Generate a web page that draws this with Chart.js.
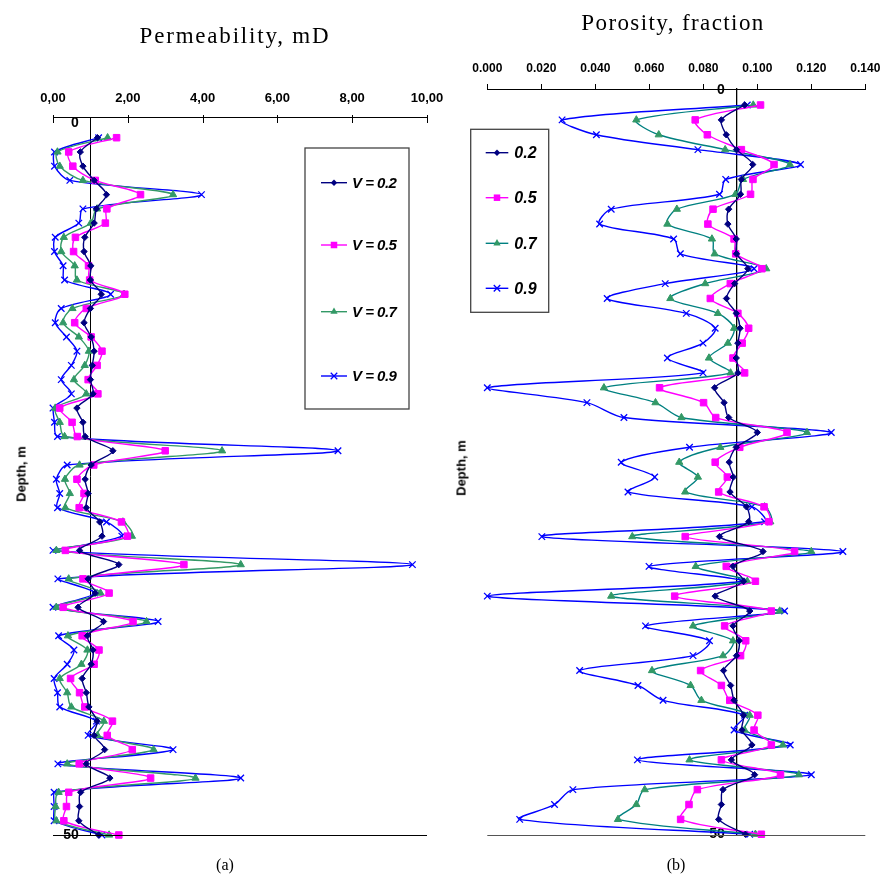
<!DOCTYPE html>
<html><head><meta charset="utf-8">
<script src="https://cdn.jsdelivr.net/npm/chart.js@4.4.1/dist/chart.umd.min.js"></script>
<style>
html,body{margin:0;padding:0;background:#fff;width:891px;height:878px;overflow:hidden;}
#ca{position:absolute;left:0;top:0;}
#cb{position:absolute;left:445px;top:0;}
.t{position:absolute;font-family:'Liberation Serif','Times New Roman',serif;color:#000;white-space:nowrap;transform:translate(-50%,-50%);}
.d{position:absolute;font-family:'Liberation Sans',Arial,sans-serif;font-weight:bold;font-size:13px;color:#000;white-space:nowrap;transform:translate(-50%,-50%) rotate(-90deg);}
</style></head><body>
<canvas id="ca" width="445" height="878"></canvas>
<canvas id="cb" width="446" height="878"></canvas>
<div class="t" style="left:235px;top:36px;font-size:23px;letter-spacing:1.8px">Permeability, mD</div>
<div class="t" style="left:673px;top:23px;font-size:23px;letter-spacing:1.4px">Porosity, fraction</div>
<div class="t" style="left:225px;top:865px;font-size:16px">(a)</div>
<div class="t" style="left:676px;top:865px;font-size:16px">(b)</div>
<div class="d" style="left:21px;top:474px">Depth, m</div>
<div class="d" style="left:461px;top:468px">Depth, m</div>
<script>
// ---------- data ----------
const depth = [1,2,3,4,5,6,7,8,9,10,11,12,13,14,15,16,17,18,19,20,21,22,23,24,25,26,27,28,29,30,31,32,33,34,35,36,37,38,39,40,41,42,43,44,45,46,47,48,49,50];

const seriesLabels = ['0.2','0.5','0.7','0.9'];

const permV02 = [1.19,0.73,0.80,1.10,1.43,1.16,1.10,0.85,0.83,1.01,1.00,1.29,1.00,0.83,1.02,1.10,1.05,1.00,1.07,0.64,0.80,0.86,1.60,1.02,0.86,0.94,0.89,1.25,1.31,0.71,1.76,0.94,1.13,0.67,1.35,0.92,1.07,1.02,0.78,0.89,0.96,1.18,1.10,1.38,0.89,1.52,0.74,0.71,0.69,1.22];
const permV05 = [1.70,0.42,0.53,1.13,2.34,1.44,1.40,0.60,0.55,0.95,0.98,1.92,0.89,0.58,1.02,1.31,1.18,0.94,1.20,0.18,0.51,0.65,3.00,1.09,0.64,0.83,0.70,1.83,1.99,0.33,3.50,0.80,1.50,0.27,2.14,0.78,1.23,1.10,0.47,0.71,0.85,1.59,1.45,2.12,0.70,2.61,0.42,0.36,0.29,1.76];
const permV07 = [1.46,0.12,0.18,0.80,3.21,1.18,1.01,0.29,0.22,0.58,0.64,1.90,0.52,0.27,0.69,0.96,0.85,0.56,0.89,0.06,0.18,0.31,4.52,0.71,0.32,0.45,0.33,1.87,2.11,0.09,5.02,0.42,1.27,0.09,2.50,0.40,0.92,0.76,0.18,0.38,0.49,1.36,1.19,2.69,0.38,3.81,0.15,0.07,0.09,1.50];
const permV09 = [1.22,0.04,0.04,0.45,3.97,0.80,0.69,0.06,0.04,0.27,0.31,1.54,0.22,0.06,0.36,0.64,0.49,0.22,0.49,0.00,0.04,0.12,7.62,0.38,0.09,0.18,0.12,1.43,1.84,0.00,9.61,0.13,1.11,0.00,2.81,0.15,0.56,0.38,0.03,0.12,0.18,1.16,0.94,3.21,0.13,5.02,0.03,0.03,0.03,1.31];

const poroV02 = [0.0953,0.0867,0.0885,0.0923,0.0983,0.0941,0.0938,0.0894,0.0891,0.0922,0.0923,0.0965,0.0916,0.0886,0.0922,0.0936,0.0928,0.0922,0.0928,0.0842,0.0877,0.0894,0.1000,0.0922,0.0896,0.0911,0.0899,0.0960,0.0968,0.0860,0.1021,0.0910,0.0949,0.0844,0.0972,0.0910,0.0933,0.0923,0.0875,0.0901,0.0914,0.0949,0.0943,0.0980,0.0904,0.0990,0.0873,0.0867,0.0857,0.0956];
const poroV05 = [0.1012,0.0770,0.0815,0.0941,0.1062,0.0984,0.0975,0.0836,0.0817,0.0914,0.0920,0.1017,0.0900,0.0826,0.0928,0.0968,0.0944,0.0910,0.0953,0.0638,0.0801,0.0846,0.1110,0.0935,0.0844,0.0889,0.0857,0.1025,0.1043,0.0733,0.1138,0.0885,0.0993,0.0694,0.1052,0.0879,0.0957,0.0938,0.0790,0.0867,0.0898,0.1002,0.0988,0.1052,0.0867,0.1086,0.0778,0.0747,0.0716,0.1015];
const poroV07 = [0.0985,0.0552,0.0635,0.0881,0.1121,0.0947,0.0919,0.0702,0.0667,0.0832,0.0842,0.1033,0.0807,0.0678,0.0854,0.0914,0.0891,0.0821,0.0901,0.0432,0.0623,0.0719,0.1184,0.0863,0.0711,0.0780,0.0733,0.1027,0.1048,0.0537,0.1200,0.0772,0.0963,0.0459,0.1083,0.0762,0.0910,0.0873,0.0610,0.0753,0.0793,0.0972,0.0953,0.1095,0.0749,0.1154,0.0583,0.0552,0.0484,0.0993];
const poroV09 = [0.0963,0.0277,0.0404,0.0780,0.1160,0.0883,0.0860,0.0459,0.0416,0.0690,0.0715,0.0988,0.0659,0.0444,0.0737,0.0844,0.0799,0.0667,0.0799,0.0000,0.0369,0.0506,0.1274,0.0749,0.0496,0.0620,0.0521,0.0980,0.1027,0.0202,0.1317,0.0599,0.0941,0.0000,0.1101,0.0586,0.0823,0.0762,0.0342,0.0558,0.0651,0.0953,0.0914,0.1122,0.0556,0.1200,0.0317,0.0249,0.0120,0.0972];

const permTicks = [0,2,4,6,8,10];
const poroTicks = [0,0.02,0.04,0.06,0.08,0.10,0.12,0.14];
const depthTicks = [0,50];
const permAxisCross = 1.0;     // vertical axis crosses permeability at 1.0
const poroAxisCross = 0.0923;  // vertical axis crosses porosity at 0.0923

// ---------- styles ----------
const NAVY='#000080', MAG='#FF00FF', GREEN='#339966', TEAL='#008080', BLUE='#0000FF';
const styles = [
  {color:NAVY, line:NAVY, style:'rectRot', r:3.2},
  {color:MAG, line:MAG, style:'rect', r:4.6},
  {color:GREEN, line:GREEN, style:'triangle', r:4.2},
  {color:BLUE, line:BLUE, style:'crossRot', r:4.6}
];

function mkDatasets(arrs, lineOverride){
  return arrs.map((arr,i)=>{
    const s = styles[i];
    const lc = (lineOverride && lineOverride[i]) || s.line;
    return {
      label: seriesLabels[i],
      data: arr.map((v,k)=>({x:v, y:depth[k]})),
      borderColor: lc, borderWidth: 1.4,
      pointStyle: s.style, pointRadius: s.r,
      pointBackgroundColor: s.color, pointBorderColor: s.color,
      pointBorderWidth: s.style==='crossRot'?1.3:1,
      tension: 0.3, fill:false, clip:false, showLine:true
    };
  });
}

function drawMarker(ctx, style, x, y, r, color){
  ctx.save();
  ctx.fillStyle=color; ctx.strokeStyle=color; ctx.lineWidth=1.3;
  ctx.beginPath();
  if(style==='rectRot'){ ctx.moveTo(x,y-r); ctx.lineTo(x+r,y); ctx.lineTo(x,y+r); ctx.lineTo(x-r,y); ctx.closePath(); ctx.fill(); }
  else if(style==='rect'){ const s=r*Math.SQRT1_2; ctx.rect(x-s,y-s,2*s,2*s); ctx.fill(); }
  else if(style==='triangle'){ ctx.moveTo(x,y-r); ctx.lineTo(x+r*0.866,y+r*0.5); ctx.lineTo(x-r*0.866,y+r*0.5); ctx.closePath(); ctx.fill(); }
  else { const s=r*Math.SQRT1_2; ctx.moveTo(x-s,y-s); ctx.lineTo(x+s,y+s); ctx.moveTo(x+s,y-s); ctx.lineTo(x-s,y+s); ctx.stroke(); }
  ctx.restore();
}

const legendPlugin = {
  id:'customLegend',
  afterDraw(chart, args, opts){
    if(!opts || !opts.box) return;
    const ctx=chart.ctx;
    ctx.save();
    ctx.strokeStyle='#444'; ctx.lineWidth=1.3;
    const b=opts.box;
    ctx.strokeRect(b[0],b[1],b[2],b[3]);
    ctx.font=opts.font; ctx.fillStyle='#000'; ctx.textBaseline='middle'; ctx.textAlign='left';
    if(opts.letterSpacing) ctx.letterSpacing=opts.letterSpacing;
    chart.data.datasets.forEach((ds,i)=>{
      const y=opts.rows[i];
      ctx.strokeStyle=ds.borderColor; ctx.lineWidth=1.4;
      ctx.beginPath(); ctx.moveTo(opts.x1,y); ctx.lineTo(opts.x2,y); ctx.stroke();
      drawMarker(ctx, ds.pointStyle, (opts.x1+opts.x2)/2, y, ds.pointRadius, ds.pointBackgroundColor);
      ctx.fillStyle='#000';
      ctx.fillText(opts.prefix + ds.label, opts.tx, y+1);
    });
    ctx.restore();
  }
};

const framePlugin = {
  id:'frame',
  afterDraw(chart, args, opts){
    const ctx=chart.ctx, ca=chart.chartArea, xs=chart.scales.x;
    ctx.save();
    ctx.strokeStyle=opts.bottomColor||'#000'; ctx.lineWidth=1.2;
    ctx.beginPath(); ctx.moveTo(ca.left, Math.round(ca.bottom)+0.5); ctx.lineTo(ca.right, Math.round(ca.bottom)+0.5); ctx.stroke();
    if(opts.innerTicks){
      ctx.strokeStyle='#000'; ctx.lineWidth=1;
      xs.ticks.forEach(t=>{
        const x=Math.round(xs.getPixelForValue(t.value))+0.5;
        ctx.beginPath(); ctx.moveTo(x, ca.top-2); ctx.lineTo(x, ca.top+6); ctx.stroke();
      });
    }
    ctx.restore();
  }
};

const tickFontA = {family:"'Liberation Sans', Arial, sans-serif", weight:'bold', size:13};
const tickFontB = {family:"'Liberation Sans', Arial, sans-serif", weight:'bold', size:12};
const depthFont = {family:"'Liberation Sans', Arial, sans-serif", weight:'bold', size:14};
const GAP = '\u00a0\u00a0\u00a0';

function setTicks(list){ return function(scale){ scale.ticks = list.map(v=>({value:v})); }; }
function fitTop(h){ return function(s){ s.height=h; s.paddingLeft=0; s.paddingRight=0; }; }

// ---------- chart (a) ----------
new Chart(document.getElementById('ca'), {
  type:'line',
  data:{ datasets: mkDatasets([permV02,permV05,permV07,permV09]) },
  options:{
    responsive:false, animation:false, devicePixelRatio:1,
    layout:{padding:{left:53, right:18, top:0, bottom:43}},
    plugins:{
      legend:{display:false}, tooltip:{enabled:false},
      customLegend:{box:[305,148,104,261], rows:[182.7,245,311.7,376], x1:321, x2:347, tx:352,
        font:"italic bold 15px 'Liberation Sans', Arial, sans-serif", prefix:'V = ', letterSpacing:'-0.5px'},
      frame:{innerTicks:true, bottomColor:'#000'}
    },
    scales:{
      x:{type:'linear', position:'top', min:0, max:10,
        afterBuildTicks:setTicks(permTicks),
        afterFit:fitTop(117),
        grid:{display:false, drawTicks:false},
        border:{display:true, color:'#000', width:1},
        ticks:{padding:11, color:'#000', font:tickFontA, maxRotation:0, callback:v=>v.toFixed(2).replace('.',',')}
      },
      y:{type:'linear', axis:'y', position:{x:permAxisCross}, reverse:true, min:-0.455, max:50,
        afterBuildTicks:setTicks(depthTicks),
        grid:{display:false, drawTicks:false},
        border:{display:true, color:'#000', width:1},
        ticks:{padding:0, color:'#000', font:depthFont, callback:v=>String(v)+GAP}
      }
    }
  },
  plugins:[legendPlugin, framePlugin]
});

// ---------- chart (b) ----------
new Chart(document.getElementById('cb'), {
  type:'line',
  data:{ datasets: mkDatasets([poroV02,poroV05,poroV07,poroV09], [null,null,TEAL,null]) },
  options:{
    responsive:false, animation:false, devicePixelRatio:1,
    layout:{padding:{left:42.3, right:25.7, top:0, bottom:43}},
    plugins:{
      legend:{display:false}, tooltip:{enabled:false},
      customLegend:{box:[25.7,129.3,78,183], rows:[152.7,197.7,243.3,288.3], x1:40.7, x2:63.3, tx:69.3,
        font:"italic bold 16px 'Liberation Sans', Arial, sans-serif", prefix:''},
      frame:{innerTicks:false, bottomColor:'#555'}
    },
    scales:{
      x:{type:'linear', position:'top', min:0, max:0.14,
        afterBuildTicks:setTicks(poroTicks),
        afterFit:fitTop(89),
        grid:{display:true, drawOnChartArea:false, drawTicks:true, tickLength:5, color:'#000', lineWidth:1},
        border:{display:true, color:'#000', width:1},
        ticks:{padding:8, color:'#000', font:tickFontB, maxRotation:0, callback:v=>v.toFixed(3)}
      },
      y:{type:'linear', axis:'y', position:{x:poroAxisCross}, reverse:true, min:-0.075, max:50.05,
        afterBuildTicks:setTicks(depthTicks),
        grid:{display:false, drawTicks:false},
        border:{display:true, color:'#000', width:1.3},
        ticks:{padding:0, color:'#000', font:depthFont, callback:v=>String(v)+GAP}
      }
    }
  },
  plugins:[legendPlugin, framePlugin]
});
</script>
</body></html>
